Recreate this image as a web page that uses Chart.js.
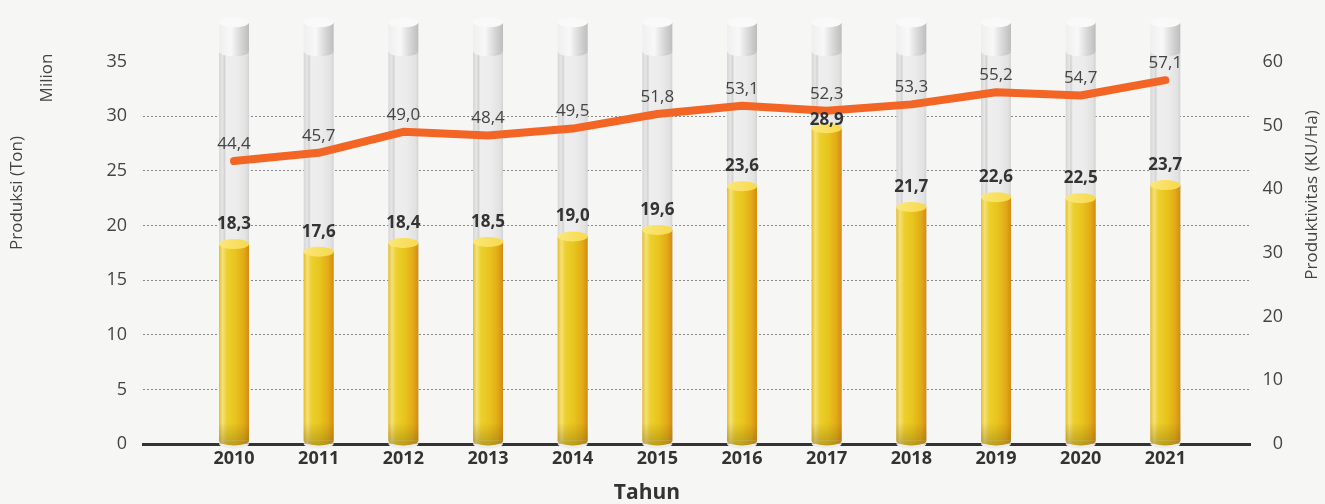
<!DOCTYPE html>
<html>
<head>
<meta charset="utf-8">
<script src="https://cdn.jsdelivr.net/npm/chart.js@4"></script>
<style>
  html, body { margin: 0; padding: 0; background: #f6f6f5; }
  #wrap { width: 1325px; height: 504px; }
</style>
</head>
<body>
<div id="wrap"><canvas id="grafik"></canvas></div>
<script>
// data
const years = ['2010', '2011', '2012', '2013', '2014', '2015', '2016', '2017', '2018', '2019', '2020', '2021'];
const produksi = [18.3, 17.6, 18.4, 18.5, 19.0, 19.6, 23.6, 28.9, 21.7, 22.6, 22.5, 23.7];          // juta ton
const produktivitas = [44.4, 45.7, 49.0, 48.4, 49.5, 51.8, 53.1, 52.3, 53.3, 55.2, 54.7, 57.1];    // KU/Ha
const tabung = [38.6, 38.6, 38.6, 38.6, 38.6, 38.6, 38.6, 38.6, 38.6, 38.6, 38.6, 38.6];       // tinggi tabung abu-abu
const leftTicks = [0, 5, 10, 15, 20, 25, 30, 35];
const rightTicks = [0, 10, 20, 30, 40, 50, 60];

const fmt = v => v.toFixed(1).replace('.', ',');
const FONT = "'Open Sans', sans-serif";

function drawTube(ctx, x, top, base, w) {
  const l = x - w / 2, ry = 5, capH = 29;
  // badan tabung
  let g = ctx.createLinearGradient(l, 0, l + w, 0);
  g.addColorStop(0, '#d6d6d6');
  g.addColorStop(0.12, '#e6e6e6');
  g.addColorStop(0.18, '#d2d2d2');
  g.addColorStop(0.24, '#eeeeee');
  g.addColorStop(0.6, '#ececec');
  g.addColorStop(0.9, '#e2e2e2');
  g.addColorStop(1, '#d3d3d3');
  ctx.fillStyle = g;
  ctx.fillRect(l, top + capH, w, base - top - capH);
  ctx.beginPath();
  ctx.ellipse(x, base, w / 2, ry, 0, 0, Math.PI);
  ctx.fillStyle = '#ededed';
  ctx.fill();
  // tutup atas
  g = ctx.createLinearGradient(l, 0, l + w, 0);
  g.addColorStop(0, '#efefef');
  g.addColorStop(0.4, '#f8f8f8');
  g.addColorStop(0.7, '#d9d9d9');
  g.addColorStop(1, '#bdbdbd');
  ctx.fillStyle = g;
  ctx.fillRect(l, top, w, capH);
  ctx.beginPath();
  ctx.ellipse(x, top + capH, w / 2, ry, 0, 0, Math.PI);
  ctx.fill();
  ctx.beginPath();
  ctx.ellipse(x, top, w / 2, ry, 0, 0, Math.PI * 2);
  ctx.fillStyle = '#f9f9f9';
  ctx.fill();
}

function drawGold(ctx, x, top, base, w) {
  const l = x - w / 2, ry = 5, bottom = base - 3;
  let g = ctx.createLinearGradient(l, 0, l + w, 0);
  g.addColorStop(0, '#e8be25');
  g.addColorStop(0.12, '#f4e07c');
  g.addColorStop(0.26, '#ecd02e');
  g.addColorStop(0.55, '#e8c41d');
  g.addColorStop(0.82, '#e2ab18');
  g.addColorStop(1, '#d48c12');
  ctx.fillStyle = g;
  ctx.fillRect(l, top, w, bottom - top);
  ctx.beginPath();
  ctx.ellipse(x, bottom, w / 2, ry, 0, 0, Math.PI);
  ctx.fill();
  // bayangan bawah
  const s = ctx.createLinearGradient(0, bottom - 18, 0, bottom + ry);
  s.addColorStop(0, 'rgba(120,95,10,0)');
  s.addColorStop(1, 'rgba(120,95,10,0.4)');
  ctx.fillStyle = s;
  ctx.beginPath();
  ctx.moveTo(l, bottom - 18);
  ctx.lineTo(l + w, bottom - 18);
  ctx.lineTo(l + w, bottom);
  ctx.ellipse(x, bottom, w / 2, ry, 0, 0, Math.PI);
  ctx.closePath();
  ctx.fill();
  // permukaan atas
  const t = ctx.createLinearGradient(l, 0, l + w, 0);
  t.addColorStop(0, '#fbe77a');
  t.addColorStop(1, '#f7d94c');
  ctx.beginPath();
  ctx.ellipse(x, top, w / 2, ry, 0, 0, Math.PI * 2);
  ctx.fillStyle = t;
  ctx.fill();
}

const cylinderPlugin = {
  id: 'cylinder',
  afterDatasetDraw(chart, args) {
    const ds = chart.data.datasets[args.index];
    if (ds.type !== 'bar') return;
    const ctx = chart.ctx;
    ctx.save();
    args.meta.data.forEach(el => {
      const w = el.width;
      if (ds.id === 'tube') drawTube(ctx, el.x, el.y, el.base, w);
      else drawGold(ctx, el.x, el.y, el.base, w);
    });
    ctx.restore();
  }
};

const labelPlugin = {
  id: 'nilai',
  afterDatasetsDraw(chart) {
    const ctx = chart.ctx;
    const barMeta = chart.getDatasetMeta(1);
    const lineMeta = chart.getDatasetMeta(0);
    ctx.save();
    ctx.textAlign = 'center';
    ctx.textBaseline = 'middle';
    ctx.fillStyle = '#444';
    ctx.font = '17px ' + FONT;
    lineMeta.data.forEach((pt, i) => {
      ctx.fillText(fmt(produktivitas[i]), pt.x, pt.y - 17);
    });
    ctx.fillStyle = '#333';
    ctx.font = 'bold 17px ' + FONT;
    barMeta.data.forEach((bar, i) => {
      let y = bar.y - 20;
      const ly = lineMeta.data[i].y;
      if (Math.abs(y - ly) < 14) y = bar.y - 8;
      ctx.fillText(fmt(produksi[i]), bar.x, y);
    });
    ctx.restore();
  }
};

const titlePlugin = {
  id: 'judul',
  afterDraw(chart) {
    const ctx = chart.ctx;
    ctx.save();
    ctx.fillStyle = '#444';
    ctx.textAlign = 'center';
    ctx.textBaseline = 'middle';
    ctx.font = '17px ' + FONT;
    [['Produksi (Ton)', 17, 193], ['Milion', 47, 78], ['Produktivitas (KU/Ha)', 1312, 195]].forEach(([t, x, y]) => {
      ctx.save();
      ctx.translate(x, y);
      ctx.rotate(-Math.PI / 2);
      ctx.fillText(t, 0, 0);
      ctx.restore();
    });
    ctx.fillStyle = '#333';
    ctx.font = 'bold 21px ' + FONT;
    ctx.fillText('Tahun', 647, 493);
    ctx.restore();
  }
};

Chart.defaults.font.family = FONT;

new Chart(document.getElementById('grafik'), {
  type: 'bar',
  data: {
    datasets: [
      {
        type: 'line',
        label: 'Produktivitas',
        data: produktivitas.map((v, i) => ({ x: i, y: v })),
        yAxisID: 'y1',
        borderColor: '#f26524',
        borderWidth: 8,
        borderCapStyle: 'round',
        borderJoinStyle: 'round',
        pointRadius: 0,
        tension: 0,
        order: 0
      },
      {
        type: 'bar',
        id: 'gold',
        label: 'Produksi',
        data: produksi.map((v, i) => ({ x: i, y: v })),
        yAxisID: 'y',
        backgroundColor: 'rgba(0,0,0,0)',
        barThickness: 30,
        grouped: false,
        order: 1
      },
      {
        type: 'bar',
        id: 'tube',
        label: 'Tabung',
        data: tabung.map((v, i) => ({ x: i, y: v })),
        yAxisID: 'y',
        backgroundColor: 'rgba(0,0,0,0)',
        barThickness: 30,
        grouped: false,
        order: 2
      }
    ]
  },
  options: {
    responsive: true,
    maintainAspectRatio: false,
    animation: false,
    layout: { padding: { top: 18, left: 0, right: 42, bottom: 0 } },
    plugins: {
      legend: { display: false },
      tooltip: { enabled: false }
    },
    scales: {
      x: {
        type: 'linear',
        offset: false,
        min: -1.075,
        max: 12.0,
        afterFit: s => { s.height = 60; },
        afterBuildTicks: s => { s.ticks = years.map((y, i) => ({ value: i })); },
        grid: { display: false },
        border: { display: true, color: '#333', width: 3 },
        ticks: {
          autoSkip: false,
          maxRotation: 0,
          padding: -4,
          color: '#333',
          font: { size: 18, weight: 'bold' },
          callback: v => years[v] ?? ''
        }
      },
      y: {
        position: 'left',
        min: 0,
        max: 39,
        afterFit: s => { s.width = 143; s.paddingTop = 0; s.paddingBottom = 0; },
        afterBuildTicks: s => { s.ticks = leftTicks.map(v => ({ value: v })); },
        border: { display: false, dash: [2, 2] },
        grid: {
          drawTicks: false,
          color: c => (c.tick && c.tick.value > 0 && c.tick.value < 35) ? '#8a8a8a' : 'rgba(0,0,0,0)',
          lineWidth: 1
        },
        ticks: { padding: 16, color: '#444', font: { size: 18 } }
      },
      y1: {
        position: 'right',
        min: 0,
        max: 39 * 60 / 35,
        afterFit: s => { s.width = 33; s.paddingTop = 0; s.paddingBottom = 0; },
        afterBuildTicks: s => { s.ticks = rightTicks.map(v => ({ value: v })); },
        border: { display: false },
        grid: { display: false, drawTicks: false },
        ticks: { padding: 8, crossAlign: 'far', color: '#444', font: { size: 18 } }
      }
    }
  },
  plugins: [cylinderPlugin, labelPlugin, titlePlugin]
});
</script>
</body>
</html>
